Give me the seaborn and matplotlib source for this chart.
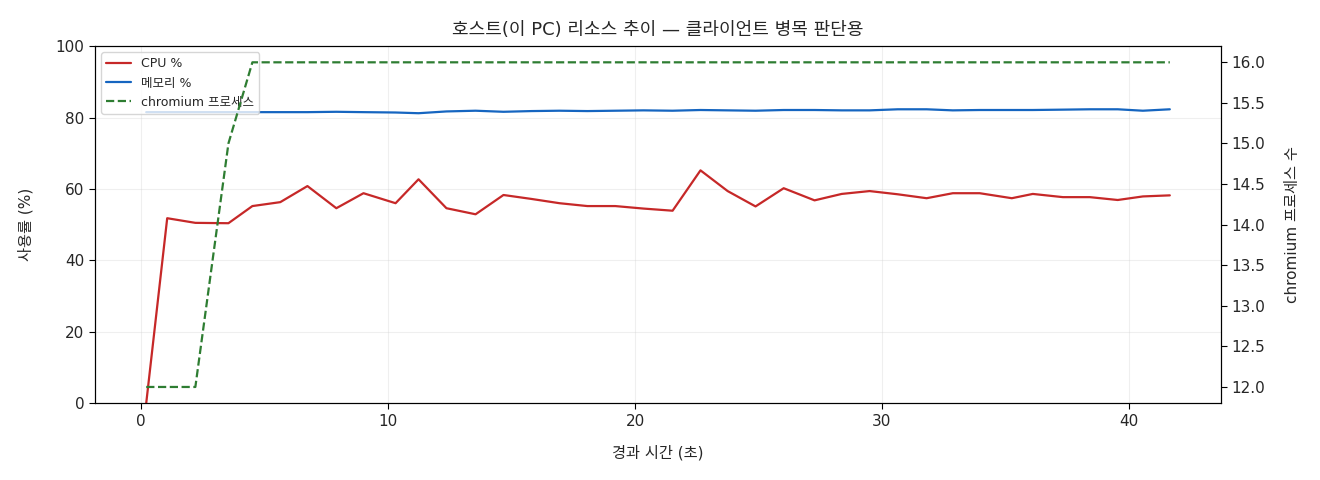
import numpy as np
import pandas as pd
import matplotlib
matplotlib.use("Agg")
import matplotlib.pyplot as plt
import seaborn as sns

# elapsed seconds of each sample
elapsed = [0.20, 1.05, 2.19, 3.53, 4.50, 5.63, 6.73, 7.90, 9.00, 10.30,
           11.23, 12.36, 13.54, 14.67, 15.80, 16.94, 18.07, 19.20, 20.34, 21.52,
           22.65, 23.75, 24.88, 26.02, 27.27, 28.37, 29.50, 30.64, 31.81, 32.87,
           33.96, 35.26, 36.11, 37.33, 38.42, 39.55, 40.57, 41.66]

cpu_pct = [0.0, 51.8, 50.5, 50.4, 55.2, 56.3, 60.8, 54.6, 58.8, 56.0,
           62.7, 54.6, 52.9, 58.3, 57.2, 56.0, 55.2, 55.2, 54.5, 53.9,
           65.2, 59.4, 55.1, 60.2, 56.8, 58.6, 59.4, 58.5, 57.4, 58.8,
           58.8, 57.4, 58.6, 57.7, 57.7, 56.9, 57.9, 58.2]

mem_pct = [81.5, 81.5, 81.5, 81.5, 81.5, 81.5, 81.5, 81.6, 81.5, 81.4,
           81.2, 81.7, 81.9, 81.6, 81.8, 81.9, 81.8, 81.9, 82.0, 81.9,
           82.1, 82.0, 81.9, 82.1, 82.1, 82.0, 82.0, 82.3, 82.3, 82.0,
           82.1, 82.1, 82.1, 82.2, 82.3, 82.3, 81.9, 82.3]

chromium_procs = [12, 12, 12, 15, 16, 16, 16, 16, 16, 16,
                  16, 16, 16, 16, 16, 16, 16, 16, 16, 16,
                  16, 16, 16, 16, 16, 16, 16, 16, 16, 16,
                  16, 16, 16, 16, 16, 16, 16, 16]

df = pd.DataFrame({"t": elapsed, "cpu": cpu_pct, "mem": mem_pct, "procs": chromium_procs})

sns.set_style("white")
plt.rcParams['font.family'] = ['DejaVu Sans', 'Noto Sans CJK KR']
plt.rcParams['font.size'] = 11
plt.rcParams['axes.unicode_minus'] = False

fig, ax = plt.subplots(figsize=(13.2, 4.8), dpi=100)
sns.lineplot(data=df, x="t", y="cpu", ax=ax, color="#c62828", linewidth=1.6, label="CPU %")
sns.lineplot(data=df, x="t", y="mem", ax=ax, color="#1565c0", linewidth=1.6, label="메모리 %")
ax.set_ylim(0, 100)
ax.set_xlabel("경과 시간 (초)", fontsize=11, labelpad=12)
ax.set_ylabel("사용률 (%)", fontsize=11, labelpad=16)
ax.grid(True, alpha=0.3)

ax2 = ax.twinx()
sns.lineplot(data=df, x="t", y="procs", ax=ax2, color="#2e7d32", linewidth=1.6,
             linestyle="--", label="chromium 프로세스")
ax2.set_ylabel("chromium 프로세스 수", fontsize=11, labelpad=14)

h1, l1 = ax.get_legend_handles_labels()
h2, l2 = ax2.get_legend_handles_labels()
if ax2.get_legend():
    ax2.get_legend().remove()
ax.legend(h1 + h2, l1 + l2, loc="upper left", fontsize=9)

for a in (ax, ax2):
    for s in a.spines.values():
        s.set_color("black")
    a.tick_params(axis="both", which="major", length=4, color="black", labelsize=11)
ax.tick_params(left=True, bottom=True)
ax2.tick_params(right=True)

ax.set_title("호스트(이 PC) 리소스 추이 — 클라이언트 병목 판단용", fontsize=13, pad=8)
fig.subplots_adjust(left=0.072, right=0.925, top=0.904, bottom=0.16)
fig.savefig("out.png", dpi=100)
